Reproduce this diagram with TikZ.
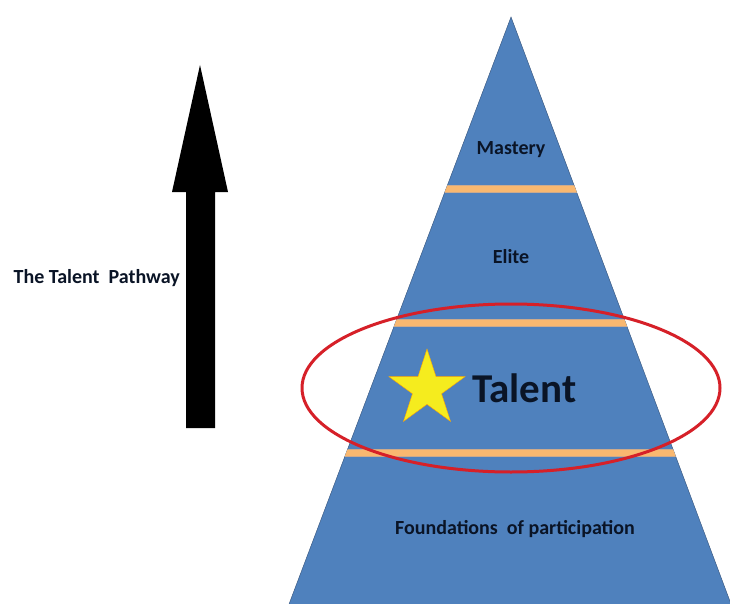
\documentclass[tikz,border=0pt]{standalone}
\usepackage{fontspec}
\setmainfont{Carlito}
\usetikzlibrary{shapes.geometric}
\definecolor{tierblue}{RGB}{79,129,189}
\definecolor{tieredge}{RGB}{50,80,120}
\definecolor{bandorange}{RGB}{249,184,112}
\definecolor{bandedge}{RGB}{205,170,140}
\definecolor{ringred}{RGB}{214,32,40}
\definecolor{starfill}{RGB}{245,236,30}
\definecolor{labelink}{RGB}{10,20,38}
\tikzset{
  bandline/.style={draw=bandedge,line width=8pt},
  bandfill/.style={draw=bandorange,line width=5.5pt},
  tierlabel/.style={font=\bfseries\fontsize{20}{24}\selectfont,text=labelink,inner sep=0pt},
}
\begin{document}
\begin{tikzpicture}[x=1pt,y=-1pt]
\useasboundingbox (0,0) rectangle (730,604);
\fill[white] (0,0) rectangle (730,604);
\clip (0,0) rectangle (730,604);

\fill[black]
(186,428) -- (186,192) -- (172,192) -- (200,65) -- (228,192) -- (215,192) -- (215,428) -- cycle;
\node[tierlabel,anchor=base east] (pathway) at (180,283) {The Talent\ \ Pathway};

\filldraw[fill=tierblue,draw=tieredge,thin]
(511,17) -- (737,620) -- (283,620) -- cycle;
\begin{scope}
\clip (511,17) -- (737,620) -- (283,620) -- cycle;
\foreach \y in {189,323,453} {
  \draw[bandline] (250,\y) -- (770,\y);
  \draw[bandfill] (250,\y) -- (770,\y);
}
\end{scope}

\draw[ringred,line width=3pt] (511,388) ellipse [x radius=209pt,y radius=84pt];

\node[star,star points=5,star point ratio=2.618,minimum size=80pt,inner sep=0pt,
  fill=starfill,draw=orange!70!yellow,thin] (star) at (427,389) {};
\node[font=\bfseries\fontsize{41}{48}\selectfont,text=labelink,inner sep=0pt,anchor=base west]
  (talent) at (472,402) {Talent};

\node[tierlabel,anchor=base] (mastery) at (511,155) {Mastery};
\node[tierlabel,anchor=base] (elite) at (511,263) {Elite};
\node[tierlabel,anchor=base] (found) at (515,534) {Foundations\ \ of participation};
\end{tikzpicture}
\end{document}
